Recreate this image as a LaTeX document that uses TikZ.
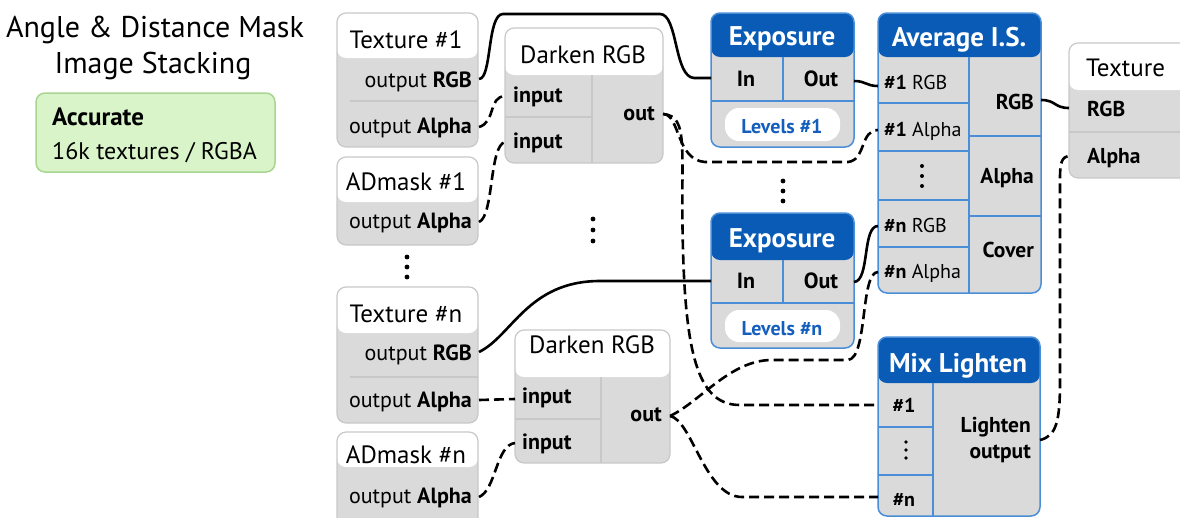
\documentclass[tikz,border=0pt]{standalone}
\usepackage{fontspec}
\setmainfont{PT Sans}
\definecolor{blueH}{RGB}{10,91,181}
\definecolor{blueB}{RGB}{74,142,216}
\definecolor{grayF}{RGB}{218,218,218}
\definecolor{grayB}{RGB}{200,200,200}
\definecolor{greenF}{RGB}{216,244,200}
\definecolor{greenB}{RGB}{168,214,146}
\definecolor{levelT}{RGB}{20,95,190}
\newcommand\fsz[1]{\fontsize{#1}{#1}\selectfont}
\newcommand\graybox[5]{%
  \fill[grayF,rounded corners=9pt] (#1,#2) rectangle (#3,#4);
  \fill[white,rounded corners=9pt] (#1,#2) rectangle (#3,#5);
  \draw[grayB,line width=1.2pt,rounded corners=9pt] (#1,#2) rectangle (#3,#4);}
\newcommand\bluebox[5]{%
  \fill[grayF,rounded corners=9pt] (#1,#2) rectangle (#3,#4);
  \fill[blueH,rounded corners=9pt] (#1,#2) rectangle (#3,#5);
  \draw[blueB,line width=1.5pt,rounded corners=9pt] (#1,#2) rectangle (#3,#4);}
\begin{document}
\begin{tikzpicture}[x=1pt,y=-1pt,
  txt/.style={inner sep=0pt,anchor=base},
  ttl/.style={txt,font=\fsz{30}},
  hd/.style={txt,font=\fsz{25}},
  bhd/.style={txt,font=\fsz{27}\bfseries,text=white},
  bd/.style={txt,font=\fsz{22}},
  bb/.style={txt,font=\fsz{22}\bfseries},
  rb/.style={txt,font=\fsz{21.5}\bfseries},
  av/.style={txt,font=\fsz{20}},
  gdiv/.style={draw=grayB,line width=1.2pt},
  bdiv/.style={draw=blueB,line width=1.5pt},
  pill/.style={fill=white,rounded corners=14pt},
  wire/.style={line width=2.6pt,black},
  dwire/.style={wire,dash pattern=on 10pt off 5pt}]
\useasboundingbox (0,0) rectangle (1180,517);
\clip (0,0) rectangle (1180,517);

% title and legend
\node[ttl] (title1) at (155,37) {Angle \& Distance Mask};
\node[ttl] (title2) at (153,73) {Image Stacking};
\draw[greenB,fill=greenF,line width=1.5pt,rounded corners=9pt] (36,93) rectangle (275,172);
\node[txt,anchor=base west,font=\fsz{25}\bfseries] (acc) at (52,125) {Accurate};
\node[txt,anchor=base west,font=\fsz{24}] (acc2) at (52,159) {16k textures / RGBA};

% Texture #1
\graybox{337}{13}{478}{147}{58}
\draw[gdiv] (350,101) -- (478,101);
\node[hd] (t1h) at (406,48) {Texture \#1};
\node[bd,anchor=base east] (t1r) at (472,87) {output \textbf{RGB}};
\node[bd,anchor=base east] (t1a) at (472,133) {output \textbf{Alpha}};

% ADmask #1
\graybox{337}{157}{478}{245}{202}
\node[hd] (a1h) at (406,190) {ADmask \#1};
\node[bd,anchor=base east] (a1a) at (472,228) {output \textbf{Alpha}};

% Darken RGB #1
\graybox{505}{28}{663}{163}{75}
\draw[gdiv] (592,75) -- (592,163);
\draw[gdiv] (505,117) -- (592,117);
\node[hd] (d1h) at (583,63) {Darken RGB};
\node[bb,anchor=base west] (d1i1) at (513,102) {input};
\node[bb,anchor=base west] (d1i2) at (513,148) {input};
\node[bb,anchor=base east] (d1o) at (655,120) {out};

% dots
\foreach \yy in {257,267,277} \fill (407,\yy) circle (2.4pt);
\foreach \yy in {219,230,241} \fill (593,\yy) circle (2.4pt);
\foreach \yy in {181,191,201} \fill (783,\yy) circle (2.4pt);

% Texture #n
\graybox{337}{287}{478}{423}{333}
\draw[gdiv] (350,377) -- (478,377);
\node[hd] (tnh) at (406,322) {Texture \#n};
\node[bd,anchor=base east] (tnr) at (472,360) {output \textbf{RGB}};
\node[bd,anchor=base east] (tna) at (472,407) {output \textbf{Alpha}};

% ADmask #n
\graybox{337}{432}{478}{530}{467}
\node[hd] (anh) at (406,463) {ADmask \#n};
\node[bd,anchor=base east] (ana) at (472,503) {output \textbf{Alpha}};

% Darken RGB #n
\graybox{515}{330}{670}{463}{377}
\draw[gdiv] (601,377) -- (601,463);
\draw[gdiv] (515,419) -- (601,419);
\node[hd] (dnh) at (592,353) {Darken RGB};
\node[bb,anchor=base west] (dni1) at (522,403) {input};
\node[bb,anchor=base west] (dni2) at (522,449) {input};
\node[bb,anchor=base east] (dno) at (662,421) {out};

% Exposure #1
\bluebox{711}{13}{854}{147}{57}
\draw[bdiv] (783,57) -- (783,101);
\draw[bdiv] (711,101) -- (854,101);
\fill[pill] (725,108) rectangle (840,141);
\node[bhd] (e1h) at (782,45) {Exposure};
\node[bb] (e1i) at (746,86) {In};
\node[bb] (e1o) at (821,86) {Out};
\node[txt,font=\fsz{20}\bfseries,text=levelT] (e1l) at (782,133) {Levels \#1};

% Exposure #n
\bluebox{711}{213}{854}{348}{260}
\draw[bdiv] (783,260) -- (783,303);
\draw[bdiv] (711,303) -- (854,303);
\fill[pill] (725,310) rectangle (840,342);
\node[bhd] (enh) at (782,247) {Exposure};
\node[bb] (eni) at (746,288) {In};
\node[bb] (eno) at (821,288) {Out};
\node[txt,font=\fsz{20}\bfseries,text=levelT] (enl) at (782,335) {Levels \#n};

% Average I.S.
\bluebox{878}{13}{1041}{293}{57}
\draw[bdiv] (969,57) -- (969,293);
\foreach \yy in {103,151,200,247} \draw[bdiv] (878,\yy) -- (969,\yy);
\foreach \yy in {136,216} \draw[bdiv] (969,\yy) -- (1041,\yy);
\node[bhd] (avh) at (959,46) {Average I.S.};
\node[av,anchor=base west] (av1) at (884,89) {\textbf{\#1} RGB};
\node[av,anchor=base west] (av2) at (884,136) {\textbf{\#1} Alpha};
\foreach \yy in {166,176,186} \fill (922,\yy) circle (2pt);
\node[av,anchor=base west] (av3) at (884,232) {\textbf{\#n} RGB};
\node[av,anchor=base west] (av4) at (884,278) {\textbf{\#n} Alpha};
\node[rb,anchor=base east] (avr) at (1034,109) {RGB};
\node[rb,anchor=base east] (ava) at (1034,183) {Alpha};
\node[rb,anchor=base east] (avc) at (1034,257) {Cover};

% Texture output
\graybox{1069}{43}{1195}{178}{90}
\draw[gdiv] (1069,132) -- (1180,132);
\node[hd,anchor=base west] (toh) at (1086,76) {Texture};
\node[rb,anchor=base west] (tor) at (1087,116) {RGB};
\node[rb,anchor=base west] (toa) at (1087,163) {Alpha};

% Mix Lighten
\bluebox{878}{337}{1040}{516}{383}
\draw[bdiv] (933,383) -- (933,516);
\foreach \yy in {427,475} \draw[bdiv] (878,\yy) -- (933,\yy);
\node[bhd] (mxh) at (958,372) {Mix Lighten};
\node[txt,font=\fsz{20}\bfseries] (mx1) at (904,412) {\#1};
\foreach \yy in {442,450,458} \fill (906,\yy) circle (1.8pt);
\node[txt,font=\fsz{20}\bfseries] (mxn) at (904,506) {\#n};
\node[rb,anchor=base east] (mxo1) at (1031,432) {Lighten};
\node[rb,anchor=base east] (mxo2) at (1031,458) {output};

% ports
\coordinate (t1rgb) at (479,79);
\coordinate (t1alpha) at (479,127);
\coordinate (a1alpha) at (479,222);
\coordinate (d1in1) at (505,96);
\coordinate (d1in2) at (505,142);
\coordinate (d1out) at (663,114);
\coordinate (e1in) at (711,78);
\coordinate (e1out) at (854,81);
\coordinate (avg1rgb) at (878,86);
\coordinate (avg1alpha) at (878,130);
\coordinate (avgnrgb) at (878,226);
\coordinate (avgnalpha) at (878,272);
\coordinate (avgrgb) at (1041,100);
\coordinate (texrgb) at (1069,108);
\coordinate (texalpha) at (1069,156);
\coordinate (tnrgb) at (479,352);
\coordinate (tnalpha) at (479,400);
\coordinate (analpha) at (479,497);
\coordinate (dnin1) at (515,399);
\coordinate (dnin2) at (515,443);
\coordinate (dnout) at (670,416);
\coordinate (enin) at (711,281);
\coordinate (enout) at (854,282);
\coordinate (mix1) at (878,405);
\coordinate (mixn) at (878,497);
\coordinate (mixout) at (1040,440);

% solid wires
\draw[wire] (t1rgb) .. controls (492,79) and (487,14) .. (503,14) -- (660,14)
  .. controls (678,14) and (674,77) .. (694,78) -- (e1in);
\draw[wire] (e1out) .. controls (866,81) and (866,86) .. (avg1rgb);
\draw[wire] (tnrgb) .. controls (512,336) and (528,281) .. (600,281) -- (enin);
\draw[wire] (enout) .. controls (870,281) and (862,226) .. (avgnrgb);
\draw[wire] (avgrgb) .. controls (1056,100) and (1054,108) .. (texrgb);

% dashed wires
\draw[dwire] (t1alpha) .. controls (496,122) and (488,97) .. (d1in1);
\draw[dwire] (a1alpha) .. controls (494,216) and (489,146) .. (d1in2);
\draw[dwire] (d1out) .. controls (680,114) and (676,160) .. (705,162) -- (848,162)
  .. controls (866,160) and (860,130) .. (avg1alpha);
\draw[dwire] (d1out) .. controls (690,116) and (680,150) .. (683,250)
  .. controls (686,360) and (700,405) .. (740,405) -- (mix1);
\draw[dwire] (tnalpha) -- (dnin1);
\draw[dwire] (analpha) .. controls (496,490) and (496,445) .. (dnin2);
\draw[dwire] (dnout) .. controls (700,402) and (730,360) .. (772,360) -- (848,360)
  .. controls (868,358) and (860,272) .. (avgnalpha);
\draw[dwire] (dnout) .. controls (692,420) and (705,497) .. (742,497) -- (mixn);
\draw[dwire] (mixout) .. controls (1057,436) and (1060,420) .. (1060,380) -- (1060,178)
  .. controls (1060,162) and (1062,157) .. (texalpha);
\end{tikzpicture}
\end{document}
